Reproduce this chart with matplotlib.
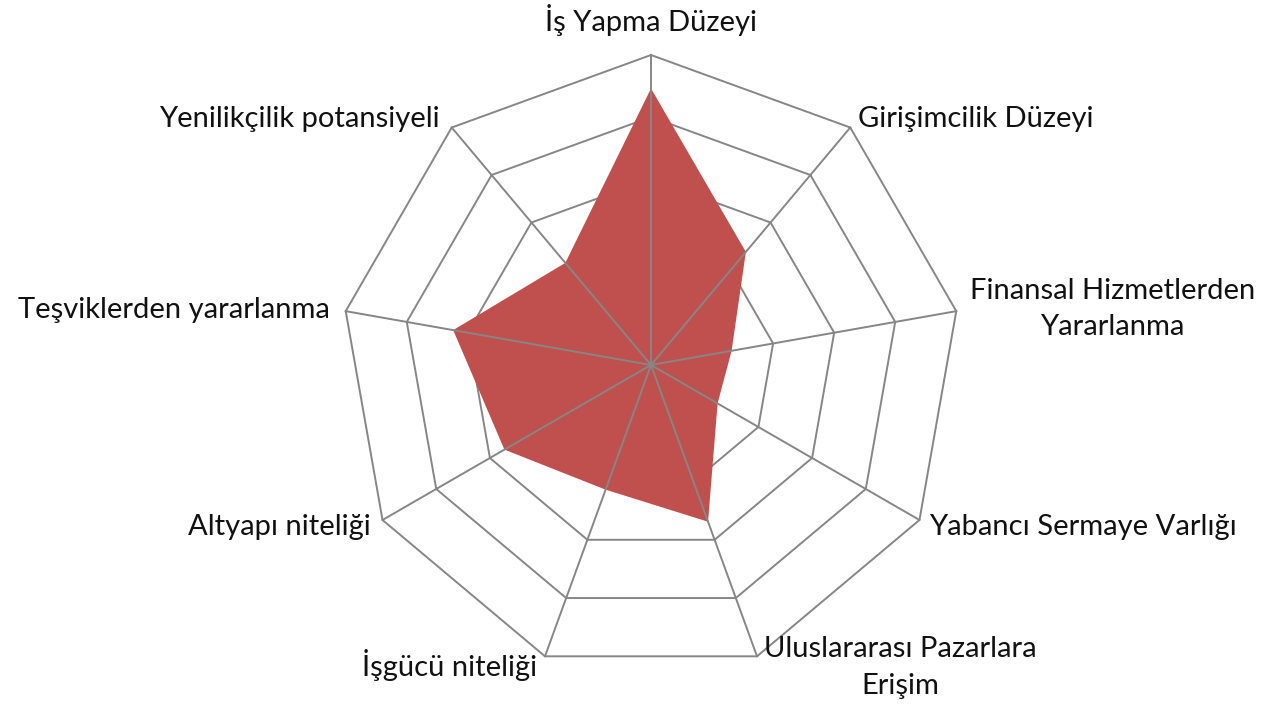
import numpy as np
import matplotlib.pyplot as plt

plt.rcParams['font.family'] = ['Lato', 'DejaVu Sans']

categories = ['İş Yapma Düzeyi', 'Girişimcilik Düzeyi', 'Finansal Hizmetlerden\nYararlanma',
              'Yabancı Sermaye Varlığı', 'Uluslararası Pazarlara\nErişim', 'İşgücü niteliği',
              'Altyapı niteliği', 'Teşviklerden yararlanma', 'Yenilikçilik potansiyeli']
values = [4.46, 2.38, 1.32, 1.24, 2.69, 2.14, 2.73, 3.24, 2.15]
rings = [1, 2, 3, 4, 5]

# label placement: offset (px) from outer vertex, alignment
label_style = [((0, 35), 'center'), ((8, 9), 'left'), ((156, 2), 'center'),
               ((10, -7), 'left'), ((143, -11), 'center'), ((-8, -9), 'right'),
               ((-12, -7), 'right'), ((-16, 1), 'right'), ((-12, 9), 'right')]

n = len(categories)
theta = np.linspace(0, 2 * np.pi, n, endpoint=False)
grid_col = '#868686'

fig = plt.figure(figsize=(12.7, 7.07), dpi=100)
ax = fig.add_axes([341 / 1270, 32 / 707, 620 / 1270, 620 / 707], projection='polar')
ax.set_theta_offset(np.pi / 2)
ax.set_theta_direction(-1)
ax.set_ylim(0, 5)
ax.grid(False)
ax.spines['polar'].set_visible(False)
ax.set_xticks([])
ax.set_yticks([])
ax.patch.set_alpha(0)

tc = np.append(theta, theta[0])
for r in rings:
    ax.plot(tc, [r] * (n + 1), color=grid_col, lw=1.4, zorder=1, clip_on=False)

vc = values + values[:1]
ax.fill(tc, vc, color='#C0504D', lw=0, zorder=2)

for t in theta:
    ax.plot([t, t], [0, 5], color=grid_col, lw=1.4, zorder=3, clip_on=False)

for t, lab, (off, ha) in zip(theta, categories, label_style):
    ax.annotate(lab, (t, 5), xytext=off, textcoords='offset pixels',
                ha=ha, va='center', multialignment='center',
                fontsize=21, color='#111111', linespacing=1.5, annotation_clip=False)

fig.savefig('out.png', dpi=100)
